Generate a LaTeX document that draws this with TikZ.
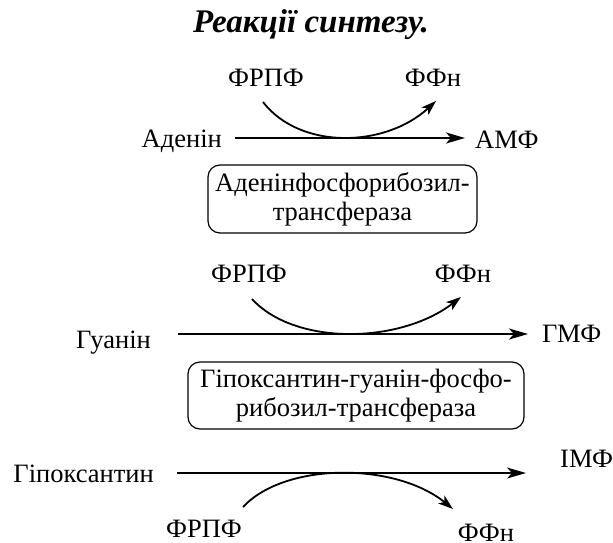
\documentclass[tikz,border=0pt]{standalone}
\usepackage{fontspec}
\setmainfont{Liberation Serif}
\usetikzlibrary{arrows.meta}
\begin{document}
\begin{tikzpicture}[x=1pt,y=-1pt,
  lbl/.style={inner sep=0pt,anchor=base,font=\fontsize{26.5}{29}\selectfont},
  enzbox/.style={draw,line width=1.2pt,rounded corners=12pt,inner sep=0pt,align=center,font=\fontsize{26.5}{29}\selectfont},
  mainarrow/.style={line width=2pt,-{Stealth[length=19pt,width=11pt,inset=5pt]}},
  sidearrow/.style={line width=1.8pt,-{Stealth[length=15pt,width=10pt,inset=4pt]}}]
\useasboundingbox (0,0) rectangle (613,543);
% title
\node[lbl,font=\fontsize{33}{36}\selectfont\bfseries\itshape] (title) at (311,33) {Реакції синтезу.};
% reaction 1
\node[lbl] (frpf1) at (266,86) {ФРПФ};
\node[lbl] (ffn1) at (433,86) {ФФн};
\node[lbl,anchor=base east] (aden) at (222,147) {Аденін};
\node[lbl,anchor=base west] (amf) at (475,148) {АМФ};
\coordinate (l1s) at (235,138);
\coordinate (l1e) at (465,138);
\coordinate (c1s) at (263,102);
\coordinate (c1e) at (436,101);
\draw[mainarrow] (l1s) -- (l1e);
\draw[sidearrow] (c1s) .. controls (300,150) and (385,148) .. (c1e);
\node[enzbox,minimum width=269pt,minimum height=68pt] (enz1) at (342.5,199) {Аденінфосфорибозил-\\трансфераза};
% reaction 2
\node[lbl] (frpf2) at (249,282) {ФРПФ};
\node[lbl] (ffn2) at (463,282) {ФФн};
\node[lbl,anchor=base east] (guan) at (151,348) {Гуанін};
\node[lbl,anchor=base west] (gmf) at (542,342) {ГМФ};
\coordinate (l2s) at (178,334);
\coordinate (l2e) at (528,334);
\coordinate (c2s) at (252,299);
\coordinate (c2e) at (461,297);
\draw[mainarrow] (l2s) -- (l2e);
\draw[sidearrow] (c2s) .. controls (295,346) and (400,344) .. (c2e);
\node[enzbox,minimum width=336pt,minimum height=67pt] (enz2) at (356,395.5) {Гіпоксантин-гуанін-фосфо-\\рибозил-трансфераза};
% reaction 3
\node[lbl,anchor=base east] (hypo) at (154,482) {Гіпоксантин};
\node[lbl,anchor=base west] (imf) at (560,467) {ІМФ};
\node[lbl] (frpf3) at (204,537) {ФРПФ};
\node[lbl] (ffn3) at (486,541) {ФФн};
\coordinate (l3s) at (177,473);
\coordinate (l3e) at (526,473);
\coordinate (c3s) at (243,507);
\coordinate (c3e) at (453,509);
\draw[mainarrow] (l3s) -- (l3e);
\draw[sidearrow] (c3s) .. controls (285,462) and (395,462) .. (c3e);
\end{tikzpicture}
\end{document}
